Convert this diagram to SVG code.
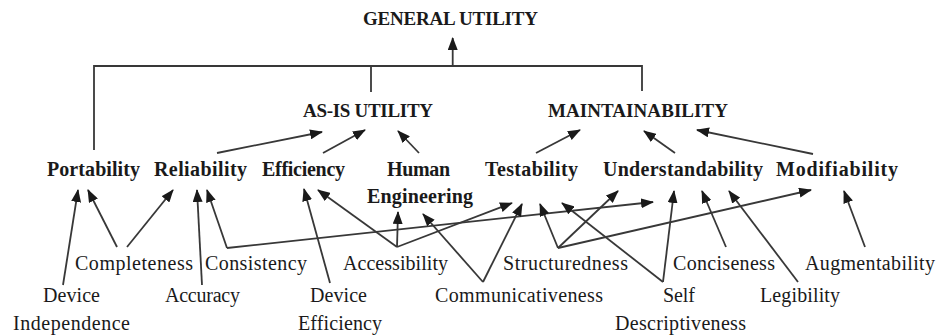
<svg xmlns="http://www.w3.org/2000/svg" width="938" height="335" viewBox="0 0 938 335">
<style>
text{font-family:"Liberation Serif","Times New Roman",serif;fill:#1a1a1a;text-anchor:middle}
.h{font-size:19px;font-weight:bold}
.b{font-size:20px;font-weight:bold}
.r{font-size:20px}
.c path{fill:none;stroke:#383838;stroke-width:1.8}
.a{marker-end:url(#ah)}
</style>
<defs>
<marker id="ah" markerUnits="userSpaceOnUse" markerWidth="13" markerHeight="10" refX="12" refY="5" orient="auto" viewBox="0 0 13 10">
<path d="M0,0 L13,5 L0,10 Z" fill="#1a1a1a"/>
</marker>
</defs>
<rect width="938" height="335" fill="#ffffff"/>
<g id="connectors" class="c">
<path d="M94,150 V66 H642 V91"/>
<path d="M371,92 V66"/>
<path class="a" d="M452.7,66 V38"/>
<path class="a" d="M217,153 L322,132"/>
<path class="a" d="M323,153 L365,130"/>
<path class="a" d="M419,153 L398,131"/>
<path class="a" d="M536,153 L580,130"/>
<path class="a" d="M675,153 L644,131"/>
<path class="a" d="M813,154 L697,130"/>
<path class="a" d="M63,285 L78,190"/>
<path class="a" d="M117,247 L88,190"/>
<path class="a" d="M127,247 L173,190"/>
<path class="a" d="M202,285 L197,190"/>
<path class="a" d="M227,248 L207,190"/>
<path class="a" d="M227,248 L653,202"/>
<path class="a" d="M330,283 L304,189"/>
<path class="a" d="M397,247 L318,190"/>
<path class="a" d="M397,247 L398,212"/>
<path class="a" d="M397,247 L512,203"/>
<path class="a" d="M483,282 L423,214"/>
<path class="a" d="M483,282 L522,204"/>
<path class="a" d="M558,248 L540,204"/>
<path class="a" d="M558,248 L618,191"/>
<path class="a" d="M558,248 L811,190"/>
<path class="a" d="M663,282 L562,203"/>
<path class="a" d="M663,282 L674,191"/>
<path class="a" d="M726,247 L702,191"/>
<path class="a" d="M798,282 L729,191"/>
<path class="a" d="M865,247 L844,191"/>
</g>
<g id="general-utility"><text class="h" x="450.5" y="25" textLength="175">GENERAL UTILITY</text></g>
<g id="as-is-utility"><text class="h" x="368" y="117" textLength="130">AS-IS UTILITY</text></g>
<g id="maintainability"><text class="h" x="638" y="117" textLength="180">MAINTAINABILITY</text></g>
<g id="portability"><text class="b" x="93.5" y="176" textLength="93">Portability</text></g>
<g id="reliability"><text class="b" x="200.5" y="176" textLength="93">Reliability</text></g>
<g id="efficiency"><text class="b" x="303.5" y="176" textLength="83">Efficiency</text></g>
<g id="human-engineering"><text class="b" x="418.5" y="176" textLength="63">Human</text><text class="b" x="420" y="203" textLength="106">Engineering</text></g>
<g id="testability"><text class="b" x="531.5" y="176" textLength="93">Testability</text></g>
<g id="understandability"><text class="b" x="683" y="176" textLength="160">Understandability</text></g>
<g id="modifiability"><text class="b" x="837" y="176" textLength="122">Modifiability</text></g>
<g id="completeness"><text class="r" x="134" y="270" textLength="118">Completeness</text></g>
<g id="consistency"><text class="r" x="256" y="270" textLength="102">Consistency</text></g>
<g id="accessibility"><text class="r" x="395.5" y="270" textLength="105">Accessibility</text></g>
<g id="structuredness"><text class="r" x="565.5" y="270" textLength="125">Structuredness</text></g>
<g id="conciseness"><text class="r" x="724" y="270" textLength="102">Conciseness</text></g>
<g id="augmentability"><text class="r" x="870" y="270" textLength="130">Augmentability</text></g>
<g id="device-independence"><text class="r" x="71.5" y="302" textLength="57">Device</text><text class="r" x="71.5" y="330" textLength="117">Independence</text></g>
<g id="accuracy"><text class="r" x="202.5" y="302" textLength="75">Accuracy</text></g>
<g id="device-efficiency"><text class="r" x="338.5" y="302" textLength="57">Device</text><text class="r" x="340" y="330" textLength="84">Efficiency</text></g>
<g id="communicativeness"><text class="r" x="519" y="302" textLength="168">Communicativeness</text></g>
<g id="self-descriptiveness"><text class="r" x="679" y="302" textLength="32">Self</text><text class="r" x="680.5" y="330" textLength="131">Descriptiveness</text></g>
<g id="legibility"><text class="r" x="800" y="302" textLength="80">Legibility</text></g>
</svg>
